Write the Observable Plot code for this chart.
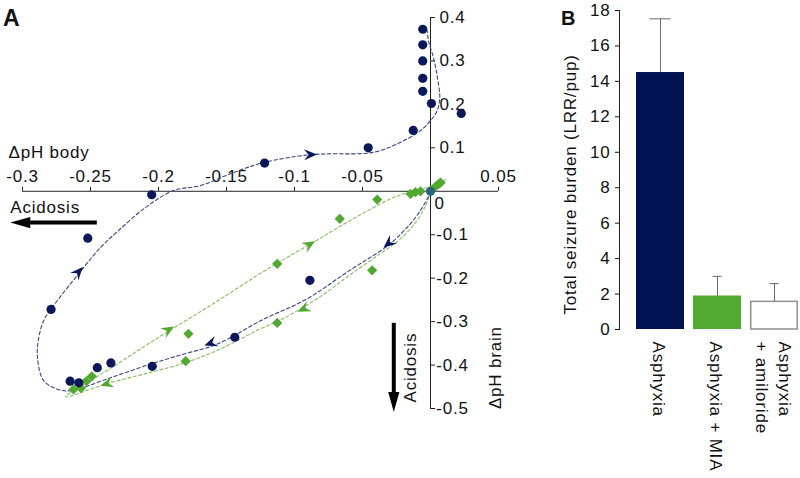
<!DOCTYPE html>
<html><head><meta charset="utf-8">
<script src="https://cdn.jsdelivr.net/npm/d3@7"></script>
<script src="https://cdn.jsdelivr.net/npm/@observablehq/plot@0.6"></script>
<style>
body{margin:0;background:#fff;}
#wrap{position:relative;width:800px;height:478px;overflow:hidden;font-family:"Liberation Sans",Arial,Helvetica,sans-serif;background:#fff;}
#a{position:absolute;left:0;top:0;}
#b{position:absolute;left:540px;top:0;}
.lab{position:absolute;font-weight:bold;line-height:1;color:#111;}
</style></head><body>
<div id="wrap"><div id="a"></div><div id="b"></div>
<div class="lab" style="left:3px;top:7px;font-size:23px">A</div><div class="lab" style="left:561px;top:8px;font-size:20px">B</div></div>
<script>
// ---------- Panel A data ----------
const blueBody  = [-0.0057,-0.0057,-0.0057,-0.0057,-0.0057,0.0007,0.0226,-0.0127,-0.0458,-0.122,-0.205,-0.252,-0.279,-0.265,-0.2586,-0.245,-0.235,-0.2046,-0.1439,-0.0887,0];
const blueBrain = [0.373,0.337,0.300,0.260,0.230,0.202,0.179,0.140,0.100,0.065,-0.008,-0.108,-0.272,-0.437,-0.441,-0.406,-0.395,-0.403,-0.336,-0.205,0];
const greenBody  = [-0.0147,-0.011,-0.0074,0.0037,0.0061,0.0074,-0.0392,-0.0667,-0.0429,-0.1127,-0.1127,-0.178,-0.180,-0.249,-0.253,-0.257,-0.2625];
const greenBrain = [-0.006,-0.002,0.000,0.011,0.017,0.020,-0.019,-0.0635,-0.182,-0.167,-0.303,-0.328,-0.391,-0.426,-0.437,-0.453,-0.456];

const bluePathBody  = [0,-0.0015,-0.0074,-0.0147,-0.0294,-0.0613,-0.0907,-0.125,-0.1568,-0.1814,-0.2059,-0.2353,-0.2647,-0.2743,-0.2846,-0.289,-0.288,-0.2843,-0.2782,-0.2586,-0.2426,-0.2294,-0.2096,-0.189,-0.1691,-0.1449,-0.1228,-0.0904,-0.0757,-0.0419,-0.0221,-0.0074,0,0.0049,0.0068,0.0051,0.0022,-0.0015,-0.0024];
const bluePathBrain = [0,-0.0122,-0.0444,-0.0743,-0.1202,-0.186,-0.2473,-0.2982,-0.3518,-0.3747,-0.3977,-0.4292,-0.4591,-0.4556,-0.4352,-0.382,-0.3363,-0.297,-0.2674,-0.1892,-0.1294,-0.0903,-0.0375,0.0016,0.0131,0.043,0.066,0.0837,0.086,0.0897,0.1126,0.1395,0.1625,0.1855,0.2161,0.2614,0.3074,0.3464,0.3694];
const greenPathBody  = [0,-0.0029,-0.011,-0.0235,-0.0368,-0.0588,-0.0809,-0.1081,-0.1272,-0.1566,-0.1816,-0.2059,-0.2382,-0.2684,-0.2353,-0.2035,-0.1618,-0.1176,-0.086,-0.0613,-0.0294,-0.0147,0,0.011];
const greenPathBrain = [0,-0.0283,-0.072,-0.1133,-0.1432,-0.1915,-0.242,-0.2926,-0.320,-0.366,-0.396,-0.4168,-0.4432,-0.473,-0.4076,-0.3432,-0.2628,-0.1747,-0.1172,-0.0713,-0.0175,-0.0007,0.0108,0.0269];

// direction arrows on the trajectories: position and a point further along the path
const blueArrowBody    = [-0.0309,-0.1618,-0.2588,-0.0882];
const blueArrowBrain   = [-0.1202,-0.350,-0.1855,0.0844];
const blueArrowToBody  = [-0.0441,-0.1816,-0.2426,-0.0662];
const blueArrowToBrain = [-0.1547,-0.373,-0.129,0.0867];
const greenArrowBody    = [-0.089,-0.1926,-0.0934,-0.2382];
const greenArrowBrain   = [-0.1225,-0.319,-0.2708,-0.4432];
const greenArrowToBody  = [-0.0613,-0.1618,-0.127,-0.2669];
const greenArrowToBrain = [-0.0713,-0.2628,-0.320,-0.4697];

const acidBody  = {from: -0.245, to: -0.309, at: -0.072};
const acidBrain = {from: -0.304, to: -0.508, at: -0.027};

const xTickValues = [-0.3,-0.25,-0.2,-0.15,-0.1,-0.05,0.05];
const xTickLabels = ["-0.3","-0.25","-0.2","-0.15","-0.1","-0.05","0.05"];
const yTickValues = [0.4,0.3,0.2,0.1,-0.1,-0.2,-0.3,-0.4,-0.5];
const yTickLabels = ["0.4","0.3","0.2","0.1","-0.1","-0.2","-0.3","-0.4","-0.5"];
const originLabel = "0";

// ---------- Panel B data ----------
const categories = ["Asphyxia","Asphyxia + MIA","Asphyxia + amiloride"];
const catLabels  = ["Asphyxia","Asphyxia + MIA","Asphyxia\n+ amiloride"];
const burden     = [14.5, 1.89, 1.56];
const burdenErr  = [3.03, 1.11, 1.03];
const yTicksB    = [0,2,4,6,8,10,12,14,16,18];
const yLabelB    = "Total seizure burden (LRR/pup)";

// ---------- styles ----------
const FONT = '"Liberation Sans", Arial, Helvetica, sans-serif';
const NAVY = "#0a185a", NAVYBAR = "#021253", GREEN = "#52a831", TEAL = "#2a6479";
const NAVYLINE = "#3a4588", GREENLINE = "#86bf5e";

const stealth = {draw(ctx, size){ const r = Math.sqrt(size/Math.PI);
  ctx.moveTo(r,0); ctx.lineTo(-r,-0.85*r); ctx.lineTo(-0.3*r,0); ctx.lineTo(-r,0.85*r); ctx.closePath(); }};
const tipSym = {draw(ctx, size){ const r = Math.sqrt(size/Math.PI);
  ctx.moveTo(0,0); ctx.lineTo(-2.5*r,-0.7*r); ctx.lineTo(-2.5*r,0.7*r); ctx.closePath(); }};

// ---------- Panel A ----------
const W_A = 540, H_A = 478, mlA = 22, mrA = 42, mtA = 17, mbA = 70;
const xDom = [-0.3, 0.05], yDom = [-0.5, 0.4];
const kx = (W_A - mlA - mrA) / (xDom[1] - xDom[0]);
const ky = (H_A - mtA - mbA) / (yDom[1] - yDom[0]);
const angle = d => Math.atan2(-(d.ty - d.y) * ky, (d.tx - d.x) * kx) * 180 / Math.PI;

const bluePts  = blueBody.map((x,i) => ({x, y: blueBrain[i]}));
const greenPts = greenBody.map((x,i) => ({x, y: greenBrain[i]}));
const bluePath  = bluePathBody.map((x,i) => ({x, y: bluePathBrain[i]}));
const greenPath = greenPathBody.map((x,i) => ({x, y: greenPathBrain[i]}));
const blueArrows  = blueArrowBody.map((x,i) => ({x, y: blueArrowBrain[i], tx: blueArrowToBody[i], ty: blueArrowToBrain[i]}));
const greenArrows = greenArrowBody.map((x,i) => ({x, y: greenArrowBrain[i], tx: greenArrowToBody[i], ty: greenArrowToBrain[i]}));

const chartA = Plot.plot({
  width: W_A, height: H_A, marginLeft: mlA, marginRight: mrA, marginTop: mtA, marginBottom: mbA,
  x: {domain: xDom, axis: null}, y: {domain: yDom, axis: null},
  color: {type: "identity"},
  style: {fontFamily: FONT, fontSize: "17px", letterSpacing: "0.8px", background: "transparent", color: "#111", overflow: "visible"},
  marks: [
    Plot.ruleY([0], {y: d => d, x1: () => xDom[0], x2: () => xDom[1], stroke: "#222"}),
    Plot.ruleX([0], {x: d => d, y1: () => yDom[0], y2: () => yDom[1], stroke: "#222"}),
    Plot.ruleX(xTickValues, {x: d => d, y1: () => 0, y2: () => 4/ky, stroke: "#222"}),
    Plot.ruleY(yTickValues, {y: d => d, x1: () => 0, x2: () => 5/kx, stroke: "#222"}),
    Plot.text(xTickValues, {x: d => d, y: () => 0, text: (d,i) => xTickLabels[i], lineAnchor: "bottom", dy: -9, fontSize: 17, fill: "#111"}),
    Plot.text(yTickValues, {x: () => 0, y: d => d, text: (d,i) => yTickLabels[i], dx: 22, fontSize: 17, fill: "#111"}),
    Plot.text([originLabel], {x: () => 0, y: () => 0, text: d => d, textAnchor: "start", lineAnchor: "bottom", dx: 4, dy: 18, fontSize: 17, fill: "#111"}),
    Plot.text(["\u0394pH body"], {x: () => xDom[0], y: () => 0, text: d => d, textAnchor: "start", lineAnchor: "bottom", dx: -14, dy: -33, fontSize: 17, fill: "#111"}),
    Plot.text(["\u0394pH brain"], {x: () => 0, y: () => (acidBrain.from + acidBrain.to)/2, text: d => d, rotate: -90, dx: 65, fontSize: 17, fill: "#111"}),
    // acidosis arrows
    Plot.ruleY([acidBody], {y: d => d.at, x1: d => d.to, x2: d => d.from, strokeWidth: 4, stroke: "#000", insetLeft: 16}),
    Plot.dot([acidBody], {x: d => d.to, y: d => d.at, symbol: tipSym, r: 8, rotate: 180, fill: "#000"}),
    Plot.text(["Acidosis"], {x: () => acidBody.to, y: () => acidBody.at, text: d => d, textAnchor: "start", lineAnchor: "bottom", dy: -10, fontSize: 17, fill: "#111"}),
    Plot.ruleX([acidBrain], {x: d => d.at, y1: d => d.from, y2: d => d.to, strokeWidth: 4, stroke: "#000", insetBottom: 16}),
    Plot.dot([acidBrain], {x: d => d.at, y: d => d.to, symbol: tipSym, r: 8, rotate: 90, fill: "#000"}),
    Plot.text(["Acidosis"], {x: () => acidBrain.at, y: () => (acidBrain.from + acidBrain.to)/2, text: d => d, rotate: -90, dx: 17, fontSize: 17, fill: "#111"}),
    // trajectories
    Plot.line(greenPath, {x: "x", y: "y", curve: "catmull-rom", stroke: GREENLINE, strokeWidth: 1.1, strokeDasharray: "3,2.5"}),
    Plot.line(bluePath, {x: "x", y: "y", curve: "catmull-rom", stroke: NAVYLINE, strokeWidth: 1.1, strokeDasharray: "3.5,2.5"}),
    Plot.dot(greenArrows, {x: "x", y: "y", symbol: stealth, r: 6.5, rotate: angle, fill: GREEN}),
    Plot.dot(blueArrows, {x: "x", y: "y", symbol: stealth, r: 6.5, rotate: angle, fill: NAVY}),
    // data points
    Plot.dot(greenPts, {x: "x", y: "y", symbol: "diamond2", r: 4.6, fill: GREEN}),
    Plot.dot(bluePts, {x: "x", y: "y", r: 4.6, fill: d => (d.x === 0 && d.y === 0) ? TEAL : NAVY})
  ]
});
document.getElementById("a").appendChild(chartA);

// ---------- Panel B ----------
const bars = categories.map((c,i) => ({cat: c, val: burden[i], err: burdenErr[i]}));
const chartB = Plot.plot({
  width: 260, height: 478, marginLeft: 79, marginRight: 0, marginTop: 10, marginBottom: 149,
  x: {domain: categories, paddingInner: 0.165, paddingOuter: 0.1675, align: 0.875, axis: null},
  y: {domain: [0, 18]},
  color: {domain: categories, range: [NAVYBAR, GREEN, "#ffffff"]},
  style: {fontFamily: FONT, fontSize: "17px", letterSpacing: "0.8px", background: "transparent", color: "#111", overflow: "visible"},
  marks: [
    Plot.barY(bars, {x: "cat", y: "val", fill: "cat"}),
    Plot.barY(bars.filter(d => d.cat === categories[2]), {x: "cat", y: "val", fill: "none", stroke: "#8f8f8f", strokeWidth: 1.5, insetLeft: 0.75, insetRight: 0.75}),
    Plot.ruleX(bars, {x: "cat", y1: "val", y2: d => d.val + d.err, stroke: "#6b6b6b"}),
    Plot.tickY(bars.filter(d => d.cat === categories[0]), {x: "cat", y: d => d.val + d.err, stroke: "#6b6b6b", insetLeft: 13.5, insetRight: 13.5}),
    Plot.tickY(bars.filter(d => d.cat !== categories[0]), {x: "cat", y: d => d.val + d.err, stroke: "#6b6b6b", insetLeft: 19.5, insetRight: 19.5}),
    Plot.axisY(yTicksB, {tickSize: 4, tickPadding: 5, label: null, fontSize: 17}),
    Plot.frame({anchor: "left", stroke: "#222"}),
    Plot.text(categories, {x: d => d, frameAnchor: "bottom", text: (d,i) => catLabels[i], rotate: 90, textAnchor: "start", lineAnchor: "middle", lineHeight: 1.35, dy: 12, fontSize: 17, fill: "#111"}),
    Plot.text([yLabelB], {frameAnchor: "left", text: d => d, rotate: -90, textAnchor: "middle", lineAnchor: "middle", dx: -49, dy: 14.5, fontSize: 17, fill: "#111"})
  ]
});
document.getElementById("b").appendChild(chartB);
</script>
</body></html>
